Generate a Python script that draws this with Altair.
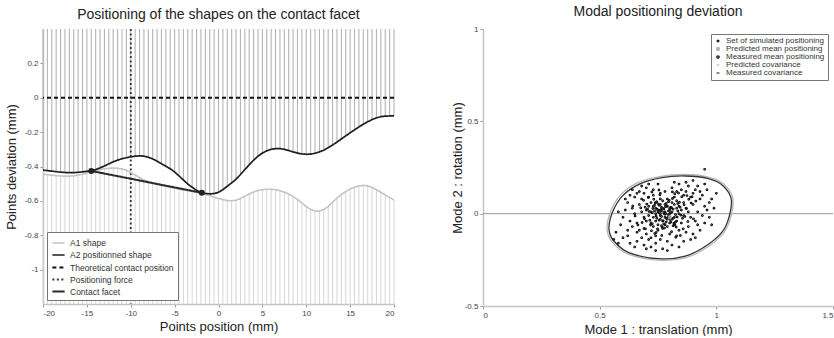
import altair as alt
import pandas as pd

FONT = "Liberation Sans"

# ---------------- left panel data ----------------
x_pos = [-20, -19.5, -19, -18.5, -18, -17.5, -17, -16.5, -16, -15.5,
         -15, -14.5, -14, -13.5, -13, -12.5, -12, -11.5, -11, -10.5,
         -10, -9.5, -9, -8.5, -8, -7.5, -7, -6.5, -6, -5.5,
         -5, -4.5, -4, -3.5, -3, -2.5, -2, -1.5, -1, -0.5,
         0, 0.5, 1, 1.5, 2, 2.5, 3, 3.5, 4, 4.5,
         5, 5.5, 6, 6.5, 7, 7.5, 8, 8.5, 9, 9.5,
         10, 10.5, 11, 11.5, 12, 12.5, 13, 13.5, 14, 14.5,
         15, 15.5, 16, 16.5, 17, 17.5, 18, 18.5, 19, 19.5,
         20]
a1_shape = [-0.445, -0.447, -0.450, -0.453, -0.455, -0.456, -0.456, -0.454, -0.450, -0.445,
            -0.438, -0.431, -0.424, -0.418, -0.413, -0.410, -0.409, -0.410, -0.414, -0.422,
            -0.435, -0.450, -0.465, -0.478, -0.489, -0.497, -0.504, -0.510, -0.516, -0.521,
            -0.526, -0.531, -0.536, -0.541, -0.546, -0.551, -0.556, -0.562, -0.569, -0.578,
            -0.586, -0.593, -0.598, -0.600, -0.596, -0.586, -0.573, -0.560, -0.548, -0.540,
            -0.535, -0.532, -0.532, -0.535, -0.541, -0.549, -0.560, -0.575, -0.592, -0.612,
            -0.633, -0.650, -0.659, -0.660, -0.650, -0.632, -0.608, -0.584, -0.562, -0.546,
            -0.531, -0.520, -0.513, -0.510, -0.513, -0.522, -0.535, -0.550, -0.565, -0.580,
            -0.595]
a2_shape = [-0.421, -0.424, -0.427, -0.430, -0.433, -0.435, -0.436, -0.436, -0.434, -0.431,
            -0.428, -0.425, -0.418, -0.408, -0.397, -0.385, -0.373, -0.363, -0.355, -0.349,
            -0.344, -0.340, -0.338, -0.340, -0.346, -0.356, -0.369, -0.384, -0.398, -0.413,
            -0.432, -0.455, -0.479, -0.502, -0.521, -0.539, -0.551, -0.557, -0.559, -0.558,
            -0.550, -0.535, -0.515, -0.495, -0.474, -0.447, -0.418, -0.390, -0.363, -0.340,
            -0.322, -0.309, -0.300, -0.296, -0.296, -0.300, -0.307, -0.315, -0.322, -0.327,
            -0.329, -0.328, -0.323, -0.315, -0.305, -0.291, -0.275, -0.258, -0.240, -0.222,
            -0.204, -0.187, -0.170, -0.154, -0.140, -0.127, -0.117, -0.110, -0.107, -0.106,
            -0.106]
contact_x = [-14.5, -1.9]
contact_y = [-0.426, -0.553]
theory_y = [0.0]
force_x = [-10.0]
left_series = ["A1 shape", "A2 positionned shape", "Theoretical contact position",
               "Positioning force", "Contact facet"]
left_colors = ["#c4c4c4", "#1e1e1e", "#111111", "#3a3a3a", "#2a2a2a"]
left_dashes = [[1, 0], [1, 0], [4, 3], [2, 2.5], [1, 0]]
left_widths = [1.6, 2.0, 1.6, 1.6, 2.6]
left_xdomain = [-20, 20]
left_ydomain = [-1.2, 0.4]
left_xticks = [-20, -15, -10, -5, 0, 5, 10, 15, 20]
left_yticks = [-1, -0.8, -0.6, -0.4, -0.2, 0, 0.2]

# ---------------- right panel data ----------------
sim_x = [0.78, 0.76, 0.80, 0.74, 0.82, 0.77, 0.79, 0.75, 0.81, 0.73,
         0.83, 0.77, 0.79, 0.72, 0.84, 0.76, 0.80, 0.74, 0.82, 0.78,
         0.71, 0.85, 0.75, 0.81, 0.73, 0.83, 0.77, 0.79, 0.76, 0.80,
         0.70, 0.86, 0.74, 0.82, 0.78, 0.72, 0.84, 0.76, 0.80, 0.75,
         0.71, 0.87, 0.73, 0.83, 0.69, 0.88, 0.77, 0.79, 0.74, 0.81,
         0.72, 0.85, 0.70, 0.86, 0.76, 0.78, 0.68, 0.89, 0.75, 0.82,
         0.67, 0.90, 0.66, 0.91, 0.71, 0.84, 0.73, 0.86, 0.69, 0.88,
         0.65, 0.92, 0.70, 0.80, 0.76, 0.83, 0.64, 0.93, 0.67, 0.87,
         0.74, 0.90, 0.63, 0.94, 0.68, 0.85, 0.72, 0.78, 0.62, 0.95,
         0.66, 0.89, 0.71, 0.81, 0.64, 0.92, 0.69, 0.87, 0.76, 0.83,
         0.61, 0.96, 0.65, 0.91, 0.68, 0.79, 0.73, 0.88, 0.62, 0.94,
         0.60, 0.97, 0.67, 0.93, 0.74, 0.84, 0.70, 0.90, 0.63, 0.95,
         0.59, 0.98, 0.62, 0.96, 0.66, 0.86, 0.72, 0.77, 0.81, 0.64,
         0.58, 0.99, 0.60, 0.92, 0.69, 0.75, 0.82, 0.91, 0.57, 0.97,
         0.61, 0.95, 0.68, 0.79, 0.74, 0.89, 0.65, 0.87, 0.56, 1.00,
         0.95, 0.58, 0.71, 0.84, 0.93, 0.63, 0.98, 0.66, 0.90, 0.70,
         0.775, 0.765, 0.795, 0.745, 0.815, 0.755, 0.805, 0.785, 0.735, 0.825,
         0.765, 0.795, 0.745, 0.815, 0.725, 0.835, 0.755, 0.805, 0.775, 0.785,
         0.715, 0.845, 0.735, 0.825, 0.765, 0.795, 0.705, 0.855, 0.745, 0.815,
         0.775, 0.785, 0.755, 0.805, 0.765, 0.795, 0.725, 0.835, 0.695, 0.865,
         0.758, 0.792, 0.742, 0.808, 0.772, 0.788, 0.728, 0.832, 0.752, 0.818,
         0.768, 0.798, 0.738, 0.822, 0.712, 0.848, 0.762, 0.802, 0.782, 0.778,
         0.692, 0.862, 0.718, 0.842, 0.748, 0.812, 0.732, 0.828, 0.702, 0.872,
         0.688, 0.878, 0.722, 0.852, 0.758, 0.808, 0.742, 0.822, 0.682, 0.892,
         0.676, 0.882, 0.708, 0.858, 0.736, 0.838, 0.766, 0.812, 0.652, 0.902,
         0.664, 0.896, 0.696, 0.874, 0.724, 0.846, 0.754, 0.826, 0.642, 0.912]
sim_y = [0.01, -0.01, 0.02, 0.00, -0.02, 0.03, -0.03, 0.02, 0.01, -0.02,
         0.03, -0.04, 0.04, 0.01, 0.00, 0.05, -0.05, -0.04, 0.05, -0.02,
         -0.01, 0.02, -0.06, 0.06, 0.04, -0.04, 0.07, -0.07, 0.00, 0.00,
         0.02, -0.01, 0.06, -0.06, 0.05, -0.05, 0.04, -0.03, 0.03, 0.01,
         0.04, 0.03, -0.07, 0.07, -0.02, 0.01, -0.08, 0.08, 0.03, -0.03,
         0.06, -0.05, -0.04, 0.06, 0.08, -0.06, 0.01, -0.02, -0.09, 0.09,
         0.05, 0.05, -0.05, -0.04, 0.09, -0.09, 0.10, 0.10, -0.08, -0.07,
         0.00, 0.01, -0.11, -0.11, 0.11, 0.12, 0.03, 0.08, -0.09, -0.10,
         -0.12, 0.11, -0.04, -0.01, 0.08, 0.13, -0.13, 0.12, 0.06, 0.04,
         -0.10, 0.09, -0.14, 0.14, -0.07, -0.06, 0.11, 0.12, -0.14, -0.12,
         0.02, 0.02, 0.09, 0.13, -0.13, -0.15, 0.13, 0.15, -0.09, 0.10,
         -0.02, 0.06, 0.12, -0.09, -0.16, 0.16, 0.14, -0.11, 0.10, -0.05,
         -0.06, 0.08, -0.12, 0.13, -0.15, -0.15, -0.18, -0.19, -0.17, 0.13,
         0.01, 0.03, -0.13, 0.15, -0.17, 0.16, 0.17, -0.13, -0.10, -0.02,
         0.08, 0.16, 0.15, -0.20, -0.20, -0.14, -0.18, 0.17, -0.14, 0.11,
         0.24, -0.16, 0.16, -0.18, 0.12, -0.16, -0.06, 0.11, 0.18, -0.19,
         0.005, -0.015, 0.015, 0.025, -0.025, -0.035, 0.035, -0.045, 0.015, -0.005,
         0.035, -0.015, -0.025, 0.025, 0.005, 0.015, 0.045, -0.045, -0.055, 0.055,
         -0.035, 0.035, 0.045, -0.045, -0.065, 0.065, 0.025, -0.025, 0.065, -0.065,
         0.025, -0.025, 0.005, 0.005, 0.015, -0.005, -0.055, 0.055, 0.035, -0.015,
         0.018, -0.022, -0.012, 0.032, -0.038, 0.042, 0.028, -0.018, 0.052, -0.052,
         -0.072, 0.072, 0.058, -0.058, 0.012, -0.008, 0.022, -0.032, 0.038, -0.078,
         -0.028, 0.048, -0.062, 0.062, -0.082, 0.082, 0.078, -0.072, 0.052, 0.028,
         0.072, -0.042, -0.092, 0.092, 0.102, -0.098, -0.102, 0.108, -0.048, 0.058,
         0.032, 0.078, 0.088, -0.082, -0.108, 0.112, -0.118, 0.118, -0.012, -0.028,
         -0.062, 0.092, -0.082, 0.098, 0.118, -0.118, 0.128, -0.128, 0.042, 0.068]
mean_x = [0.80, 0.78]
mean_y = [-0.02, 0.00]
meas_ell_x = [1.065, 1.030, 0.966, 0.867, 0.767, 0.668, 0.597, 0.554, 0.540, 0.561, 0.625, 0.753, 0.867, 0.966, 1.037]
meas_ell_y = [0.068, 0.150, 0.190, 0.204, 0.195, 0.159, 0.095, 0.005, -0.085, -0.148, -0.211, -0.244, -0.230, -0.166, -0.076]
pred_ell_x = [1.072, 1.036, 0.970, 0.866, 0.762, 0.660, 0.588, 0.545, 0.532, 0.554, 0.620, 0.752, 0.870, 0.972, 1.044]
pred_ell_y = [0.070, 0.156, 0.197, 0.212, 0.202, 0.165, 0.099, 0.006, -0.088, -0.154, -0.218, -0.252, -0.238, -0.172, -0.079]
zero_y = [0.0]
right_series = ["Set of simulated positioning", "Predicted mean positioning",
                "Measured mean positioning", "Predicted covariance", "Measured covariance"]
right_colors = ["#111111", "#9a9a9a", "#111111", "#b5b5b5", "#333333"]
right_shapes = ["circle", "square", "circle", "stroke", "stroke"]
right_sizes = [3, 8, 10, 130, 130]
right_xdomain = [0, 1.5]
right_ydomain = [-0.5, 1]
right_xticks = [0, 0.5, 1, 1.5]
right_yticks = [-0.5, 0, 0.5, 1]

# ---------------- common styles ----------------
ax_common = dict(labelFontSize=8, labelColor="#444", labelFont=FONT, titleFont=FONT,
                 titleFontSize=13, titleFontWeight="normal", titleColor="#222",
                 domainColor="#c4c4c4", domainWidth=1.5, tickColor="#999", tickSize=3,
                 grid=False, labelExpr="toString(datum.value)", labelPadding=2)

# ---------------- left chart ----------------
lines_df = pd.concat([
    pd.DataFrame({"x": x_pos, "y": a1_shape, "lser": left_series[0], "i": range(len(x_pos))}),
    pd.DataFrame({"x": x_pos, "y": a2_shape, "lser": left_series[1], "i": range(len(x_pos))}),
    pd.DataFrame({"x": contact_x, "y": contact_y, "lser": left_series[4], "i": range(2)}),
])
up_df = pd.DataFrame({"x": x_pos, "y": a2_shape, "y2v": left_ydomain[1]})
low_df = pd.DataFrame({"x": x_pos, "y": a1_shape, "y2v": left_ydomain[0]})
theory_df = pd.DataFrame({"y": theory_y, "lser": left_series[2]})
force_df = pd.DataFrame({"x": force_x, "lser": left_series[3]})
contact_df = pd.DataFrame({"x": contact_x, "y": contact_y})

LX = alt.X("x:Q", scale=alt.Scale(domain=left_xdomain, nice=False, zero=False),
           axis=alt.Axis(values=left_xticks, title="Points position (mm)", titlePadding=3, **ax_common))
LY = alt.Y("y:Q", scale=alt.Scale(domain=left_ydomain, nice=False, zero=False),
           axis=alt.Axis(values=left_yticks, title="Points deviation (mm)", titlePadding=6, **ax_common))

lleg = alt.Legend(title=None, orient="bottom-left", offset=4, fillColor="white", strokeColor="#777",
                  padding=4, labelFontSize=8.5, labelColor="#333", labelFont=FONT,
                  symbolType="stroke", symbolSize=150, rowPadding=-5, labelLimit=300)
lcol = alt.Color("lser:N", scale=alt.Scale(domain=left_series, range=left_colors), legend=lleg)
ldash = alt.StrokeDash("lser:N", scale=alt.Scale(domain=left_series, range=left_dashes), legend=lleg)
lwid = alt.StrokeWidth("lser:N", scale=alt.Scale(domain=left_series, range=left_widths), legend=lleg)

hatch_up = alt.Chart(up_df).mark_rule(color="#b4b4b4", strokeWidth=1.1).encode(LX, LY, y2="y2v:Q")
hatch_low = alt.Chart(low_df).mark_rule(color="#d6d6d6", strokeWidth=1.0).encode(LX, LY, y2="y2v:Q")
theory = alt.Chart(theory_df).mark_rule().encode(y=LY, color=lcol, strokeDash=ldash, strokeWidth=lwid)
force = alt.Chart(force_df).mark_rule().encode(x=LX, color=lcol, strokeDash=ldash, strokeWidth=lwid)
shapes = alt.Chart(lines_df).mark_line().encode(LX, LY, color=lcol, strokeDash=ldash, strokeWidth=lwid,
                                                order="i:Q")
cpts = alt.Chart(contact_df).mark_point(filled=True, color="#222", size=36, opacity=1).encode(LX, LY)

left = alt.layer(hatch_up, hatch_low, theory, force, shapes, cpts).properties(
    width=351, height=275,
    title=alt.TitleParams("Positioning of the shapes on the contact facet"))

# ---------------- right chart ----------------
sim_df = pd.DataFrame({"x": sim_x, "y": sim_y, "rser": right_series[0]})
mean_df = pd.DataFrame({"x": mean_x, "y": mean_y, "rser": right_series[1:3]})
ell_df = pd.concat([
    pd.DataFrame({"x": pred_ell_x, "y": pred_ell_y, "rser": right_series[3], "i": range(len(pred_ell_x))}),
    pd.DataFrame({"x": meas_ell_x, "y": meas_ell_y, "rser": right_series[4], "i": range(len(meas_ell_x))}),
])
zero_df = pd.DataFrame({"y": zero_y})

RX = alt.X("x:Q", scale=alt.Scale(domain=right_xdomain, nice=False, zero=False),
           axis=alt.Axis(values=right_xticks, title="Mode 1 : translation (mm)", titlePadding=4,
                         labelFlush=True, **ax_common))
RY = alt.Y("y:Q", scale=alt.Scale(domain=right_ydomain, nice=False, zero=False),
           axis=alt.Axis(values=right_yticks, title="Mode 2 : rotation (mm)", titlePadding=0, **ax_common))

rleg = alt.Legend(title=None, orient="top-right", offset=5, fillColor="white", strokeColor="#777",
                  padding=3, labelFontSize=8, labelColor="#333", labelFont=FONT,
                  rowPadding=0, symbolStrokeWidth=1.2, labelLimit=300)
rcol = alt.Color("rser:N", scale=alt.Scale(domain=right_series, range=right_colors), legend=rleg)
rshape = alt.Shape("rser:N", scale=alt.Scale(domain=right_series, range=right_shapes), legend=rleg)
rsize = alt.Size("rser:N", scale=alt.Scale(domain=right_series, range=right_sizes), legend=rleg)

zero_rule = alt.Chart(zero_df).mark_rule(color="#9a9a9a", strokeWidth=1).encode(y=RY)
ellipses = alt.Chart(ell_df).mark_line(interpolate="cardinal-closed", strokeWidth=1.3).encode(
    RX, RY, color=rcol, order="i:Q")
sims = alt.Chart(sim_df).mark_point(filled=False, strokeWidth=1.1, opacity=1).encode(
    RX, RY, color=rcol, shape=rshape, size=rsize)
means = alt.Chart(mean_df).mark_point(filled=False, strokeWidth=1.5, opacity=1).encode(
    RX, RY, color=rcol, shape=rshape, size=rsize)

right = alt.layer(zero_rule, ellipses, sims, means).properties(
    width=350, height=277,
    title=alt.TitleParams("Modal positioning deviation"))

chart = alt.hconcat(left, right, spacing=53).resolve_scale(
    x="independent", y="independent", color="independent", strokeDash="independent",
    strokeWidth="independent", shape="independent", size="independent"
).resolve_legend(
    color="independent", strokeDash="independent", strokeWidth="independent",
    shape="independent", size="independent"
).configure(
    padding={"left": 5, "top": 5, "right": 0, "bottom": 0},
    font=FONT,
).configure_view(stroke=None).configure_title(
    font=FONT, fontSize=14, fontWeight="normal", color="#222", offset=6, anchor="middle")

chart.save("out.html", embed_options={"renderer": "svg", "actions": False})
